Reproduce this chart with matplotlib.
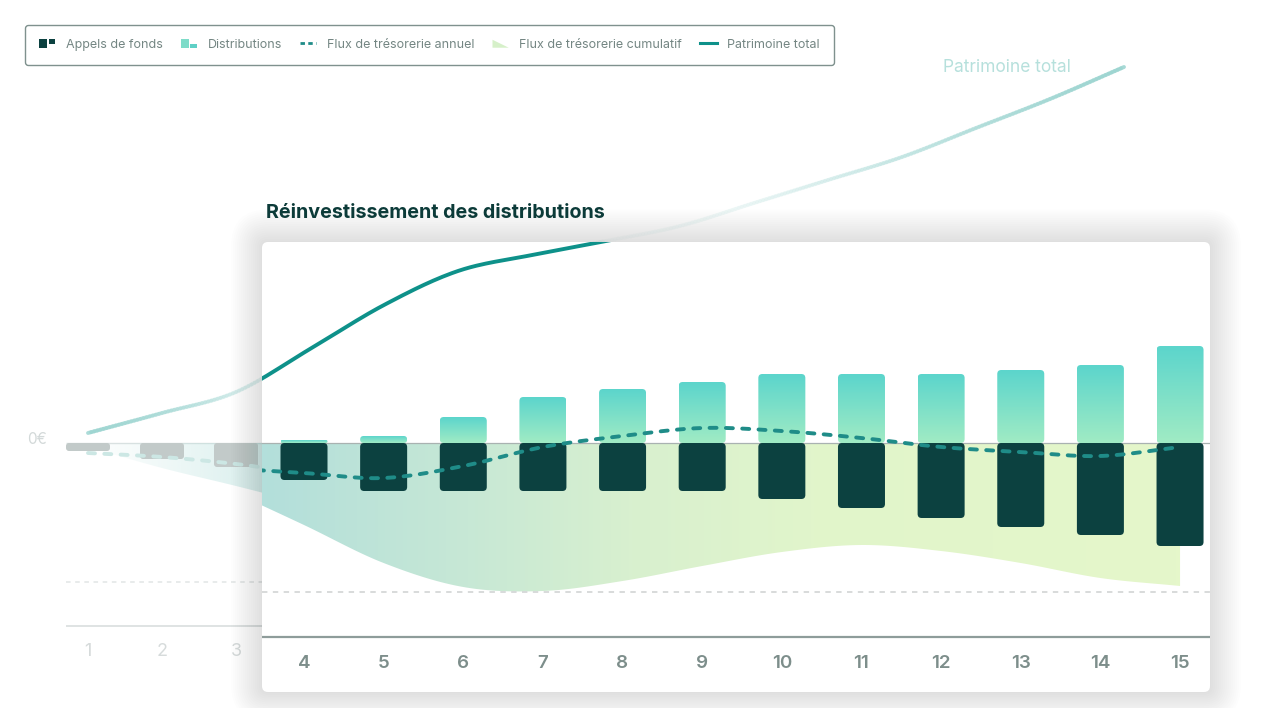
import numpy as np
import matplotlib
matplotlib.use("Agg")
import matplotlib.pyplot as plt
from matplotlib.patches import FancyBboxPatch, Rectangle, Polygon, Patch
from matplotlib.lines import Line2D
from matplotlib.collections import LineCollection
from matplotlib.colors import LinearSegmentedColormap, to_rgb
from matplotlib.legend_handler import HandlerBase

plt.rcParams['font.family'] = ['Inter', 'DejaVu Sans']

# ---------------- data ----------------
# background (faded) chart, years 1..15
years_bg = list(range(1, 16))
patrimoine_bg = [10, 30, 51, 94, 138, 172, 188, 202, 217, 240, 263, 286, 315, 344, 376]
bar_years_bg = [1, 2, 3]
calls_bg = [-8, -16, -24]
flow_years_bg = [1, 2, 3, 4]
annual_bg = [-10, -14, -21, -31]
cumul_bg = [-4, -25, -43, -62]
bg_ref_line = -139
bg_floor = -183
bg_tick_labels = ['1', '2', '3']

# zoomed panel, years 4..15
years_panel = list(range(4, 16))
distributions = [3, 7, 26, 46, 54, 61, 69, 69, 69, 73, 78, 97]
calls = [-37, -48, -48, -48, -48, -48, -56, -65, -75, -84, -92, -103]
flow_years = list(range(3, 16))
annual_flow = [-25, -30, -35, -23, -4, 7, 15, 12, 5, -4, -9, -13, -4]
cumulative = [-45, -82, -120, -144, -148, -138, -123, -109, -102, -108, -120, -135, -143]
panel_ref_line = -149
panel_floor = -194
panel_tick_labels = [str(y) for y in years_panel]

title = "Réinvestissement des distributions"
zero_label = "0€"
line_label = "Patrimoine total"
legend_labels = ["Appels de fonds", "Distributions", "Flux de trésorerie annuel",
                 "Flux de trésorerie cumulatif", "Patrimoine total"]

# ---------------- colours ----------------
C_CALL = '#0c4140'
C_DIST_TOP = '#5cd5cc'
C_DIST_BOT = '#a0ebc4'
C_TEAL = '#0e918a'
C_DASH = '#1f8c88'
C_TICK = '#7d8e8b'
C_TITLE = '#0c3b39'

# ---------------- layout (pixels) ----------------
W, H = 1272, 708
ZERO_PX = 443
BG_X0, BG_PPY = 88, 74.0          # bg: year 1 at x=88, 74 px / year
CARD = (262, 242, 948, 450)       # x, y(top), w, h
P_X0, P_PPY = 304, 79.64          # panel: year 4 at x=304


def smooth(x, y, n=24):
    P = np.column_stack([np.asarray(x, float), np.asarray(y, float)])
    P = np.vstack([2 * P[0] - P[1], P, 2 * P[-1] - P[-2]])
    t = np.linspace(0, 1, n, endpoint=False)[:, None]
    out = []
    for i in range(1, len(P) - 2):
        p0, p1, p2, p3 = P[i - 1], P[i], P[i + 1], P[i + 2]
        out.append(0.5 * (2 * p1 + (-p0 + p2) * t + (2 * p0 - 5 * p1 + 4 * p2 - p3) * t ** 2
                          + (-p0 + 3 * p1 - 3 * p2 + p3) * t ** 3))
    out.append(P[-2][None, :])
    r = np.vstack(out)
    return r[:, 0], r[:, 1]


def rbar(ax, x, y0, y1, w, r_px, ppx, ppy, **kw):
    lo, hi = min(y0, y1), max(y0, y1)
    r_px = min(r_px, (hi - lo) * ppy / 2.0)
    p = FancyBboxPatch((x - w / 2, lo), w, hi - lo,
                       boxstyle=f"round,pad=0,rounding_size={max(r_px, 0.01) / ppx}",
                       mutation_aspect=ppx / ppy, **kw)
    ax.add_patch(p)
    return p


fig = plt.figure(figsize=(W / 100, H / 100), dpi=100)
fig.patch.set_facecolor('white')

# ---------------- background axes ----------------
bg = fig.add_axes([0, 0, 1, 1], zorder=0)
bg.axis('off')
bg_xlim = (1 - BG_X0 / BG_PPY, 1 + (W - BG_X0) / BG_PPY)
bg_ylim = (-(H - ZERO_PX), ZERO_PX)
bg.set_xlim(*bg_xlim)
bg.set_ylim(*bg_ylim)
bg.set_autoscale_on(False)
card_left_bg = 1 + (CARD[0] - BG_X0) / BG_PPY
bw_bg = 44 / BG_PPY
bg_left = bar_years_bg[0] - bw_bg / 2

bg.hlines(0, bg_left, card_left_bg + 0.5, color='#dde2e2', lw=1, zorder=1)
bg.hlines(bg_ref_line, bg_left, card_left_bg + 0.5, color='#e2e5e5', lw=1.1,
          linestyles=(0, (3, 3)), zorder=1)
bg.hlines(bg_floor, bg_left, card_left_bg + 0.5, color='#dfe3e3', lw=1.4, zorder=1)

# faded cumulative area
cx, cy = smooth(flow_years_bg, cumul_bg)
poly_bg = Polygon(np.column_stack([np.r_[cx[0] - 0.15, cx, cx[-1]], np.r_[0, cy, 0]]),
                  closed=True, fc='none', ec='none')
bg.add_patch(poly_bg)
N = 256
img = np.zeros((1, N, 4))
img[..., :3] = to_rgb('#b3dfdb')
img[0, :, 3] = np.clip(np.linspace(0, 1, N) ** 1.3, 0, 1) * 0.5
im = bg.imshow(img, extent=[bg_left, card_left_bg, min(cumul_bg) - 5, 0], aspect='auto',
               origin='lower', zorder=1.5, interpolation='bilinear')
im.set_clip_path(poly_bg)

for yr, v in zip(bar_years_bg, calls_bg):
    rbar(bg, yr, 0, v, bw_bg, 3, BG_PPY, 1.0, fc='#c2cac9', ec='none', zorder=2)

ax_, ay_ = smooth(flow_years_bg, annual_bg)
bg.plot(ax_, ay_, color='#cce7e4', lw=2.8, dashes=(1.8, 2.4), dash_capstyle='round', zorder=3)

px, py = smooth(years_bg, patrimoine_bg)
pts = np.column_stack([px, py]).reshape(-1, 1, 2)
segs = np.concatenate([pts[:-1], pts[1:]], axis=1)
mx = 0.5 * (px[:-1] + px[1:])
exit_year = 7.96
t_right = np.clip((mx - exit_year) / (15 - exit_year), 0, 1)
alpha = np.where(mx <= card_left_bg,
                 0.85 - (mx - 1) / (card_left_bg - 1) * 0.7,
                 np.where(mx >= exit_year, 0.03 + 0.87 * t_right ** 1.8, 0.1))
base = np.array(to_rgb('#9dd5d1'))
cols = np.column_stack([np.tile(base, (len(mx), 1)), np.clip(alpha, 0, 1)])
lc = LineCollection(segs, colors=cols, linewidths=2.8, capstyle='round', zorder=4)
bg.add_collection(lc)

bg.annotate(line_label, xy=(years_bg[-1], patrimoine_bg[-1]), xytext=(-38.5, 0),
            textcoords='offset points', ha='right', va='center', fontsize=12.5,
            color='#b6e0dc')

for yr, lab in zip(bar_years_bg, bg_tick_labels):
    bg.text(yr, panel_floor - 14, lab, ha='center', va='center', fontsize=13,
            color='#d6dbdb')
bg.text(bg_left - 0.26, 4, zero_label, ha='right', va='center', fontsize=11,
        color='#d3d9d9')

# ---------------- decoration axes (card, shadow, title) ----------------
deco = fig.add_axes([0, 0, 1, 1], zorder=1)
deco.set_xlim(0, W)
deco.set_ylim(H, 0)
deco.axis('off')
deco.patch.set_alpha(0)
cx0, cy0, cw, ch = CARD
for i in range(16):
    e = 1 + i * 2.0
    deco.add_patch(FancyBboxPatch((cx0 - e, cy0 - e * 1.05), cw + 2 * e, ch + 2 * e,
                                  boxstyle=f"round,pad=0,rounding_size={6 + e}",
                                  fc='#1d3d3b', ec='none', alpha=0.0065, zorder=1))
deco.add_patch(FancyBboxPatch((cx0, cy0), cw, ch, boxstyle="round,pad=0,rounding_size=6",
                              fc='white', ec='none', zorder=2))
deco.text(cx0 + 4, 213, title, ha='left', va='center', fontsize=14.2, fontweight='bold',
          color=C_TITLE, zorder=3)

# ---------------- panel axes ----------------
panel = fig.add_axes([cx0 / W, (H - cy0 - ch) / H, cw / W, ch / H], zorder=2)
panel.axis('off')
panel.patch.set_alpha(0)
p_xlim = (4 - (P_X0 - cx0) / P_PPY, 4 + (cx0 + cw - P_X0) / P_PPY)
p_ylim = (-(cy0 + ch - ZERO_PX), ZERO_PX - cy0)
panel.set_xlim(*p_xlim)
panel.set_ylim(*p_ylim)
panel.set_autoscale_on(False)

# cumulative area with horizontal gradient
fx, fy = smooth(flow_years, cumulative)
poly = Polygon(np.column_stack([np.r_[fx, fx[-1], fx[0]], np.r_[fy, 0, 0]]), closed=True,
               fc='none', ec='none')
panel.add_patch(poly)
area_cmap = LinearSegmentedColormap.from_list('area', [
    (0, '#b3dfdb'), (0.2, '#c5e7d6'), (0.4, '#d8f0cf'), (0.6, '#e1f5cb'), (1, '#e5f7ca')])
im = panel.imshow(np.linspace(0, 1, 256)[None, :], extent=[p_xlim[0], flow_years[-1],
                  min(cumulative) - 10, 0], aspect='auto', origin='lower', cmap=area_cmap,
                  zorder=1, interpolation='bilinear')
im.set_clip_path(poly)

panel.axhline(0, color='#a9b2b1', lw=0.9, zorder=1.5)
panel.axhline(panel_ref_line, color='#d5d8d8', lw=1.3, ls=(0, (3, 3)), zorder=1.5)
panel.axhline(panel_floor, color='#8e9c9a', lw=1.6, zorder=1.5)

bw = 47 / P_PPY
dist_cmap = LinearSegmentedColormap.from_list('dist', [C_DIST_BOT, C_DIST_TOP])
for yr, d, c in zip(years_panel, distributions, calls):
    p = rbar(panel, yr, 0, d, bw, 4, P_PPY, 1.0, fc='none', ec='none', zorder=2)
    g = panel.imshow(np.linspace(0, 1, 64)[:, None], extent=[yr - bw / 2, yr + bw / 2, 0, d],
                     aspect='auto', origin='lower', cmap=dist_cmap, zorder=2,
                     interpolation='bilinear')
    g.set_clip_path(p)
    rbar(panel, yr, 0, c, bw, 4, P_PPY, 1.0, fc=C_CALL, ec='none', zorder=2.5)

ax2, ay2 = smooth(flow_years, annual_flow)
panel.plot(ax2, ay2, color=C_DASH, lw=2.8, dashes=(1.8, 2.4), dash_capstyle='round', zorder=3)

for yr, lab in zip(years_panel, panel_tick_labels):
    panel.text(yr, panel_floor - 27, lab, ha='center', va='center', fontsize=13.5,
               fontweight='semibold', color=C_TICK)

# ---------------- strong patrimoine line, clipped to card ----------------
top = fig.add_axes([0, 0, 1, 1], zorder=3)
top.axis('off')
top.patch.set_alpha(0)
top.set_xlim(*bg_xlim)
top.set_ylim(*bg_ylim)
clip_rect = Rectangle((cx0, cy0), cw, ch, transform=deco.transData)
ln, = top.plot(px, py, color=C_TEAL, lw=2.8, solid_capstyle='round')
ln.set_clip_path(clip_rect)


# ---------------- legend ----------------
class RectIcon(HandlerBase):
    def __init__(self, specs):
        super().__init__()
        self.specs = specs

    def create_artists(self, legend, orig_handle, xdescent, ydescent, width, height,
                       fontsize, trans):
        arts = []
        for fx_, fw_, fy_, fh_, c_ in self.specs:
            arts.append(Rectangle((-xdescent + fx_ * width, -ydescent + fy_ * height),
                                  fw_ * width, fh_ * height, fc=c_, ec='none',
                                  transform=trans))
        return arts


class TriIcon(HandlerBase):
    def create_artists(self, legend, orig_handle, xdescent, ydescent, width, height,
                       fontsize, trans):
        x0, y0 = -xdescent, -ydescent
        return [Polygon([(x0, y0 + 0.1 * height), (x0 + width, y0 + 0.1 * height),
                         (x0, y0 + 0.9 * height)], closed=True, fc='#d6f0c9', ec='none',
                        transform=trans)]


h_calls, h_dist, h_cum = Patch(), Patch(), Patch()
h_flow = Line2D([], [], color=C_DASH, lw=2, dashes=(1.6, 1.2))
h_pat = Line2D([], [], color=C_TEAL, lw=2.2)
leg = fig.legend([h_calls, h_dist, h_flow, h_cum, h_pat], legend_labels,
                 handler_map={h_calls: RectIcon([(0, 0.5, 0.05, 0.9, C_CALL),
                                                 (0.6, 0.4, 0.5, 0.45, C_CALL)]),
                              h_dist: RectIcon([(0, 0.5, 0.05, 0.9, '#7edcc9'),
                                                (0.6, 0.4, 0.05, 0.45, '#5fd0c6')]),
                              h_cum: TriIcon()},
                 loc='upper left', bbox_to_anchor=(25 / W, 1 - 25 / H), ncol=5,
                 frameon=True, fancybox=True, fontsize=9.0, handlelength=1.3,
                 handleheight=0.85, handletextpad=0.85, columnspacing=1.45, borderpad=1.1,
                 borderaxespad=0, labelcolor='#748683')
fr = leg.get_frame()
fr.set_edgecolor('#7f918e')
fr.set_linewidth(1)
fr.set_facecolor('white')
fr.set_alpha(1)
leg.set_zorder(10)

fig.savefig('out.png', dpi=100)
